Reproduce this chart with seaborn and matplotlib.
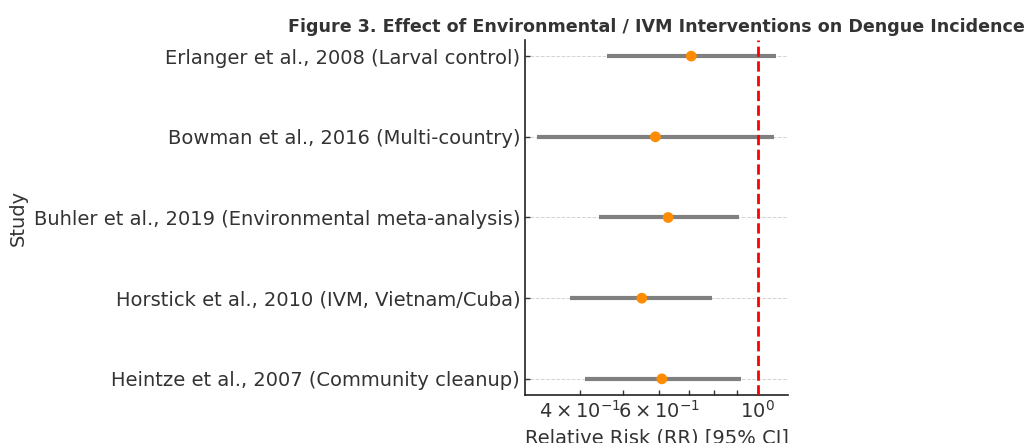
import matplotlib
matplotlib.use("Agg")
import matplotlib.pyplot as plt
import seaborn as sns
import pandas as pd

studies = [
    "Erlanger et al., 2008 (Larval control)",
    "Bowman et al., 2016 (Multi-country)",
    "Buhler et al., 2019 (Environmental meta-analysis)",
    "Horstick et al., 2010 (IVM, Vietnam/Cuba)",
    "Heintze et al., 2007 (Community cleanup)",
]
rr = [0.71, 0.59, 0.63, 0.55, 0.61]
ci_low = [0.46, 0.32, 0.44, 0.38, 0.41]
ci_high = [1.10, 1.09, 0.91, 0.79, 0.92]

df = pd.DataFrame({"Study": studies, "RR": rr, "Low": ci_low, "High": ci_high})
df["pos"] = range(len(df))

sns.set_theme(style="ticks")
plt.rcParams["font.family"] = ["DejaVu Sans"]

W, H = 1027, 443
fig = plt.figure(figsize=(W / 100, H / 100), dpi=100)
ax = fig.add_axes([525 / W, 1 - 395 / H, (788 - 525) / W, (395 - 40) / H])

ax.hlines(df["pos"], df["Low"], df["High"], color="gray", linewidth=3, zorder=2)
sns.scatterplot(data=df, x="RR", y="pos", ax=ax, color="darkorange", s=60,
                edgecolor="none", zorder=3)
ax.axvline(1.0, color="red", linestyle="--", linewidth=2, zorder=4)

ax.set_xscale("log")
ax.set_ylim(len(df) - 1 + 0.2, -0.2)
ax.set_yticks(df["pos"])
ax.set_yticklabels(df["Study"], fontsize=14, color="#333333")
ax.tick_params(axis="both", which="both", direction="in", length=3.5, width=1,
               colors="#333333")
ax.tick_params(axis="x", which="both", labelsize=14)
ax.grid(axis="y", linestyle="--", linewidth=0.7, color="lightgray")
ax.grid(axis="x", visible=False)
ax.set_xlabel("Relative Risk (RR) [95% CI]", fontsize=14, color="#333333", labelpad=5)
ax.set_ylabel("Study", fontsize=14, color="#333333")
ax.set_title("Figure 3. Effect of Environmental / IVM Interventions on Dengue Incidence",
             fontsize=12.6, fontweight="bold", color="#333333")
sns.despine(ax=ax)
for s in ("left", "bottom"):
    ax.spines[s].set_color("#222222")
    ax.spines[s].set_linewidth(1.2)

fig.savefig("out.png", dpi=100)
